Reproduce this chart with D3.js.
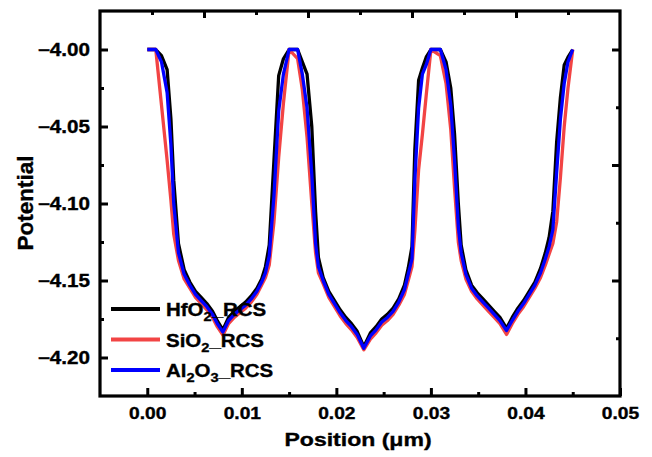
<!DOCTYPE html>
<html>
<head>
<meta charset="utf-8">
<script src="https://cdn.jsdelivr.net/npm/d3@7"></script>
<style>
  body { margin: 0; background: #fff; }
  text { font-family: "Liberation Sans", Arial, sans-serif; font-weight: bold; fill: #000; stroke: #000; stroke-width: 0.35px; }
</style>
</head>
<body>
<script>
"use strict";

/* chart data */
var positionUm = [
	0.0000, 0.0009, 0.0015, 0.0021, 0.0025, 0.0028, 0.0033, 0.0039, 0.0045, 0.0051, 0.0057, 0.0063, 0.0069, 0.0074,
	0.0080, 0.0086, 0.0092, 0.0098, 0.0104, 0.0110, 0.0116, 0.0121, 0.0125, 0.0129, 0.0134, 0.0139, 0.0144, 0.0150,
	0.0159, 0.0164, 0.0169, 0.0174, 0.0178, 0.0181, 0.0186, 0.0192, 0.0198, 0.0204, 0.0210, 0.0216, 0.0222, 0.0229,
	0.0236, 0.0242, 0.0248, 0.0254, 0.0260, 0.0266, 0.0272, 0.0276, 0.0280, 0.0283, 0.0287, 0.0291, 0.0295, 0.0300,
	0.0310, 0.0316, 0.0321, 0.0325, 0.0329, 0.0332, 0.0337, 0.0343, 0.0349, 0.0355, 0.0361, 0.0367, 0.0373, 0.0380,
	0.0386, 0.0392, 0.0398, 0.0404, 0.0410, 0.0416, 0.0421, 0.0425, 0.0429, 0.0433, 0.0437, 0.0441, 0.0445, 0.0450
];
var hfo2Rcs = [
	-4.000, -4.000, -4.004, -4.013, -4.045, -4.085, -4.126, -4.143, -4.151, -4.157, -4.161, -4.165, -4.170, -4.176,
	-4.182, -4.174, -4.170, -4.167, -4.164, -4.160, -4.155, -4.149, -4.141, -4.127, -4.072, -4.017, -4.006, -4.000,
	-4.000, -4.008, -4.016, -4.050, -4.105, -4.135, -4.148, -4.157, -4.163, -4.169, -4.174, -4.178, -4.183, -4.193,
	-4.184, -4.180, -4.175, -4.172, -4.168, -4.162, -4.153, -4.142, -4.128, -4.065, -4.020, -4.012, -4.005, -4.000,
	-4.000, -4.008, -4.025, -4.055, -4.100, -4.127, -4.143, -4.153, -4.158, -4.162, -4.166, -4.170, -4.174, -4.181,
	-4.174, -4.168, -4.163, -4.157, -4.151, -4.142, -4.132, -4.122, -4.105, -4.060, -4.031, -4.010, -4.005, -4.000
];
var sio2Rcs = [
	-4.000, -4.000, -4.036, -4.072, -4.098, -4.120, -4.137, -4.149, -4.155, -4.161, -4.165, -4.169, -4.174, -4.180,
	-4.1855, -4.178, -4.174, -4.171, -4.168, -4.164, -4.159, -4.153, -4.148, -4.140, -4.112, -4.070, -4.035, -4.000,
	-4.006, -4.026, -4.057, -4.100, -4.132, -4.145, -4.152, -4.161, -4.167, -4.173, -4.178, -4.182, -4.187, -4.195,
	-4.188, -4.184, -4.179, -4.176, -4.172, -4.166, -4.159, -4.150, -4.141, -4.118, -4.078, -4.055, -4.030, -4.000,
	-4.004, -4.022, -4.052, -4.090, -4.125, -4.137, -4.149, -4.157, -4.162, -4.166, -4.170, -4.174, -4.178, -4.185,
	-4.178, -4.172, -4.167, -4.161, -4.155, -4.148, -4.140, -4.133, -4.126, -4.112, -4.083, -4.050, -4.025, -4.000
];
var al2o3Rcs = [
	-4.000, -4.000, -4.008, -4.028, -4.062, -4.100, -4.132, -4.146, -4.153, -4.159, -4.163, -4.167, -4.172, -4.178,
	-4.1835, -4.176, -4.172, -4.169, -4.166, -4.162, -4.157, -4.151, -4.145, -4.134, -4.095, -4.040, -4.016, -4.000,
	-4.000, -4.016, -4.038, -4.081, -4.126, -4.141, -4.150, -4.159, -4.165, -4.171, -4.176, -4.180, -4.185, -4.194,
	-4.186, -4.182, -4.177, -4.174, -4.170, -4.164, -4.156, -4.146, -4.136, -4.085, -4.038, -4.016, -4.010, -4.000,
	-4.000, -4.013, -4.036, -4.072, -4.115, -4.132, -4.146, -4.155, -4.160, -4.164, -4.168, -4.172, -4.176, -4.1825,
	-4.176, -4.170, -4.165, -4.159, -4.153, -4.145, -4.136, -4.128, -4.117, -4.080, -4.045, -4.022, -4.008, -4.000
];

// legend labels: even parts normal, odd parts subscript
var seriesLabels = [["HfO", "2", "_RCS"], ["SiO", "2", "_RCS"], ["Al", "2", "O", "3", "_RCS"]];
var seriesColors = ["#000000", "#f24444", "#0000ff"];

// ticks
var xTicks = [0, 0.01, 0.02, 0.03, 0.04, 0.05];
var xMinor = [0.005, 0.015, 0.025, 0.035, 0.045];
var yTicks = [-4.2, -4.15, -4.1, -4.05, -4.0];
var yMinor = [-4.175, -4.125, -4.075, -4.025];
var topTicks = [0.01, 0.02, 0.03, 0.04];
var topMinor = [0.005, 0.015, 0.025, 0.035, 0.045];
var rightTicks = [-4.15, -4.075, -4.0];
var rightMinor = [-4.1875, -4.1125, -4.0375];

function drawChart() {
	var width = 652, height = 457;
	var plot = {left: 100, right: 620, top: 11, bottom: 396};

	var svg = d3.select("body").append("svg")
		.attr("width", width)
		.attr("height", height);

	var x = d3.scaleLinear().domain([-0.005, 0.05]).range([plot.left, plot.right]);
	var xTop = d3.scaleLinear().domain([0, 0.05]).range([plot.left, plot.right]);
	var y = d3.scaleLinear().domain([-4.225, -3.975]).range([plot.bottom, plot.top]);

	var series = [hfo2Rcs, sio2Rcs, al2o3Rcs];

	// curves (black first, blue on top)
	var line = d3.line()
		.x(function(d, i) { return x(positionUm[i]); })
		.y(function(d) { return y(d); });
	svg.append("g").selectAll("path")
		.data(series)
		.enter().append("path")
		.attr("d", line)
		.attr("fill", "none")
		.attr("stroke", function(d, i) { return seriesColors[i]; })
		.attr("stroke-width", 3.3)
		.attr("stroke-linejoin", "round");

	// axes with inward ticks
	function styleAxis(g) {
		g.select(".domain").remove();
		g.selectAll(".tick line").attr("stroke", "#000").attr("stroke-width", 3);
		g.attr("font-size", null).attr("font-family", null);
	}
	var bottom = svg.append("g").attr("transform", "translate(0," + plot.bottom + ")");
	bottom.call(d3.axisBottom(x).tickValues(xTicks).tickSize(-8).tickPadding(12)
		.tickFormat(d3.format(".2f"))).call(styleAxis);
	bottom.selectAll("text").style("font-size", "16px").attr("transform", "scale(1.2,1)");
	svg.append("g").attr("transform", "translate(0," + plot.bottom + ")")
		.call(d3.axisBottom(x).tickValues(xMinor).tickSize(-4).tickFormat("")).call(styleAxis);

	var left = svg.append("g").attr("transform", "translate(" + plot.left + ",0)");
	left.call(d3.axisLeft(y).tickValues(yTicks).tickSize(-8).tickPadding(8.5)
		.tickFormat(d3.format(".2f"))).call(styleAxis);
	left.selectAll("text").style("font-size", "17.5px").attr("transform", "scale(1.18,1)");
	svg.append("g").attr("transform", "translate(" + plot.left + ",0)")
		.call(d3.axisLeft(y).tickValues(yMinor).tickSize(-4).tickFormat("")).call(styleAxis);

	// top and right mirror axes (own scales, no labels)
	svg.append("g").attr("transform", "translate(0," + plot.top + ")")
		.call(d3.axisTop(xTop).tickValues(topTicks).tickSize(-7).tickFormat("")).call(styleAxis);
	svg.append("g").attr("transform", "translate(0," + plot.top + ")")
		.call(d3.axisTop(xTop).tickValues(topMinor).tickSize(-4).tickFormat("")).call(styleAxis);
	svg.append("g").attr("transform", "translate(" + plot.right + ",0)")
		.call(d3.axisRight(y).tickValues(rightTicks).tickSize(-8).tickFormat("")).call(styleAxis);
	svg.append("g").attr("transform", "translate(" + plot.right + ",0)")
		.call(d3.axisRight(y).tickValues(rightMinor).tickSize(-4).tickFormat("")).call(styleAxis);

	// frame
	svg.append("rect")
		.attr("x", plot.left)
		.attr("y", plot.top)
		.attr("width", plot.right - plot.left)
		.attr("height", plot.bottom - plot.top)
		.attr("fill", "none")
		.attr("stroke", "#000")
		.attr("stroke-width", 3.2);

	// axis titles
	svg.append("text")
		.attr("transform", "translate(358,446) scale(1.28,1)")
		.attr("text-anchor", "middle")
		.style("font-size", "18px")
		.text("Position (\u03bcm)");
	svg.append("text")
		.attr("transform", "translate(33,203) rotate(-90)")
		.attr("text-anchor", "middle")
		.style("font-size", "22.5px")
		.text("Potential");

	// legend
	var legend = svg.append("g").selectAll("g")
		.data(seriesLabels)
		.enter().append("g")
		.attr("transform", function(d, i) { return "translate(0," + (309 + i * 30.5) + ")"; });
	legend.append("line")
		.attr("x1", 111).attr("x2", 160)
		.attr("y1", 0).attr("y2", 0)
		.attr("stroke", function(d, i) { return seriesColors[i]; })
		.attr("stroke-width", 4);
	var label = legend.append("text")
		.attr("transform", "translate(166,7) scale(1.17,1)")
		.style("font-size", "17.5px");
	label.each(function(parts) {
		var t = d3.select(this);
		parts.forEach(function(p, k) {
			var sub = k % 2 === 1;
			t.append("tspan")
				.attr("dy", sub ? 5 : (k > 0 ? -5 : 0))
				.style("font-size", sub ? "12.5px" : null)
				.text(p);
		});
	});
}

drawChart();
</script>
</body>
</html>
